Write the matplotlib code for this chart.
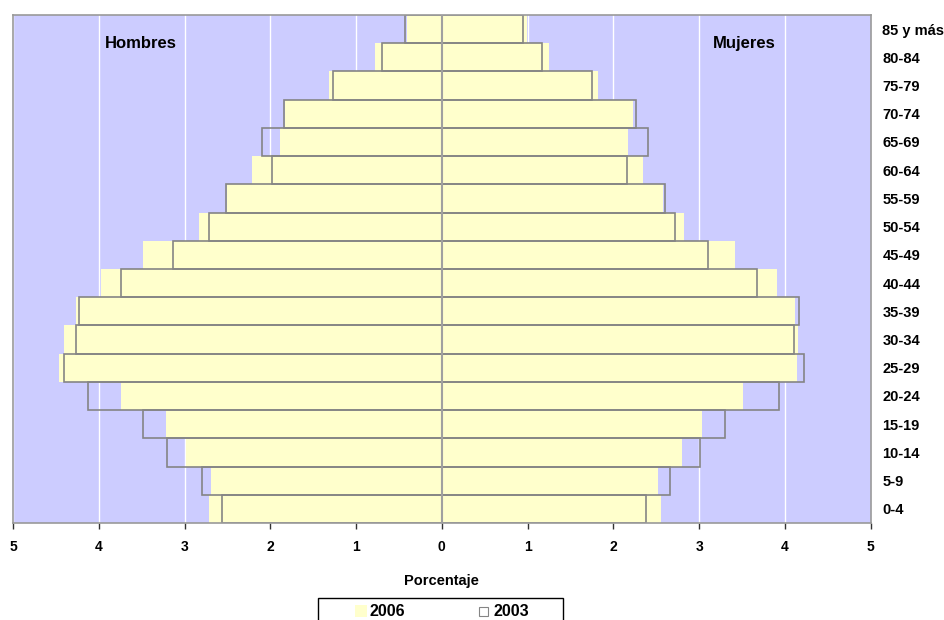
import matplotlib
matplotlib.use("Agg")
import matplotlib.pyplot as plt
from matplotlib.patches import Rectangle
import numpy as np

plt.rcParams['font.family'] = ['Liberation Sans', 'DejaVu Sans']

# age groups, bottom to top
grupos = ["0-4", "5-9", "10-14", "15-19", "20-24", "25-29", "30-34", "35-39",
          "40-44", "45-49", "50-54", "55-59", "60-64", "65-69", "70-74",
          "75-79", "80-84", "85 y más"]

# percentages
hombres_2006 = [2.72, 2.69, 2.98, 3.22, 3.74, 4.46, 4.41, 4.27, 3.98, 3.48,
                2.83, 2.51, 2.21, 1.89, 1.83, 1.32, 0.78, 0.41]
hombres_2003 = [2.56, 2.80, 3.20, 3.48, 4.13, 4.41, 4.26, 4.23, 3.74, 3.13,
                2.72, 2.52, 1.98, 2.10, 1.84, 1.27, 0.70, 0.43]
mujeres_2006 = [2.56, 2.52, 2.80, 3.03, 3.51, 4.14, 4.15, 4.12, 3.91, 3.42,
                2.82, 2.58, 2.34, 2.17, 2.23, 1.82, 1.25, 0.99]
mujeres_2003 = [2.38, 2.66, 3.01, 3.30, 3.93, 4.22, 4.11, 4.16, 3.68, 3.10,
                2.72, 2.60, 2.16, 2.40, 2.26, 1.75, 1.17, 0.95]

amarillo = "#FFFFCC"
lavanda = "#CCCCFF"
gris = "#858585"

W, H = 944, 620
fig = plt.figure(figsize=(W / 100, H / 100), dpi=100)
ax = fig.add_axes([0.0138, 0.1565, 0.9085, 0.8193])
ax.set_facecolor(lavanda)

y = np.arange(len(grupos))

# white grid lines behind the bars
for v in range(-5, 6):
    ax.axvline(v, color="white", lw=1, zorder=0.5)

ax.barh(y, -np.array(hombres_2006), height=1.0, color=amarillo, lw=0, zorder=1)
ax.barh(y, mujeres_2006, height=1.0, color=amarillo, lw=0, zorder=1)
ax.barh(y, -np.array(hombres_2003), height=1.0, facecolor="none",
        edgecolor=gris, lw=1.2, zorder=2)
ax.barh(y, mujeres_2003, height=1.0, facecolor="none",
        edgecolor=gris, lw=1.2, zorder=2)
ax.axvline(0, color="#A0A0A0", lw=1.5, zorder=3)

ax.set_xlim(-5, 5)
ax.set_ylim(-0.5, len(grupos) - 0.5)

ax.set_xticks(range(-5, 6))
ax.set_xticklabels([str(abs(v)) for v in range(-5, 6)], fontsize=10,
                   fontweight="bold")
ax.tick_params(axis="x", direction="out", length=4, width=1, pad=8,
               color="#333333")

ax.yaxis.tick_right()
ax.set_yticks(y)
ax.set_yticklabels(grupos, fontsize=10.5, fontweight="bold")
ax.tick_params(axis="y", length=0, pad=8.5)

for s in ax.spines.values():
    s.set_color("#999999")
    s.set_linewidth(1.2)

ax.set_xlabel("Porcentaje", fontsize=10.5, fontweight="bold", labelpad=15)

ax.text(-3.51, 16.5, "Hombres", fontsize=12, fontweight="bold", ha="center",
        va="center")
ax.text(3.53, 16.5, "Mujeres", fontsize=12, fontweight="bold", ha="center",
        va="center")

# legend box at the bottom, cut by the figure edge as in the original
def px(x0, y0, w, h):
    return (x0 / W, 1 - (y0 + h) / H), w / W, h / H

(bx, by), bw, bh = px(318, 598, 245, 30)
fig.patches.append(Rectangle((bx, by), bw, bh, transform=fig.transFigure,
                             facecolor="white", edgecolor="black", lw=1))
(sx, sy), sw, sh = px(355, 605, 12, 12)
fig.patches.append(Rectangle((sx, sy), sw, sh, transform=fig.transFigure,
                             facecolor=amarillo, edgecolor="none"))
(sx, sy), sw, sh = px(479, 607, 9, 9)
fig.patches.append(Rectangle((sx, sy), sw, sh, transform=fig.transFigure,
                             facecolor="white", edgecolor=gris, lw=0.8))
fig.text(370 / W, 1 - 611 / H, "2006", fontsize=11.5, fontweight="bold",
         va="center", ha="left")
fig.text(493 / W, 1 - 611 / H, "2003", fontsize=11.5, fontweight="bold",
         va="center", ha="left")

fig.savefig("out.png", dpi=100)
